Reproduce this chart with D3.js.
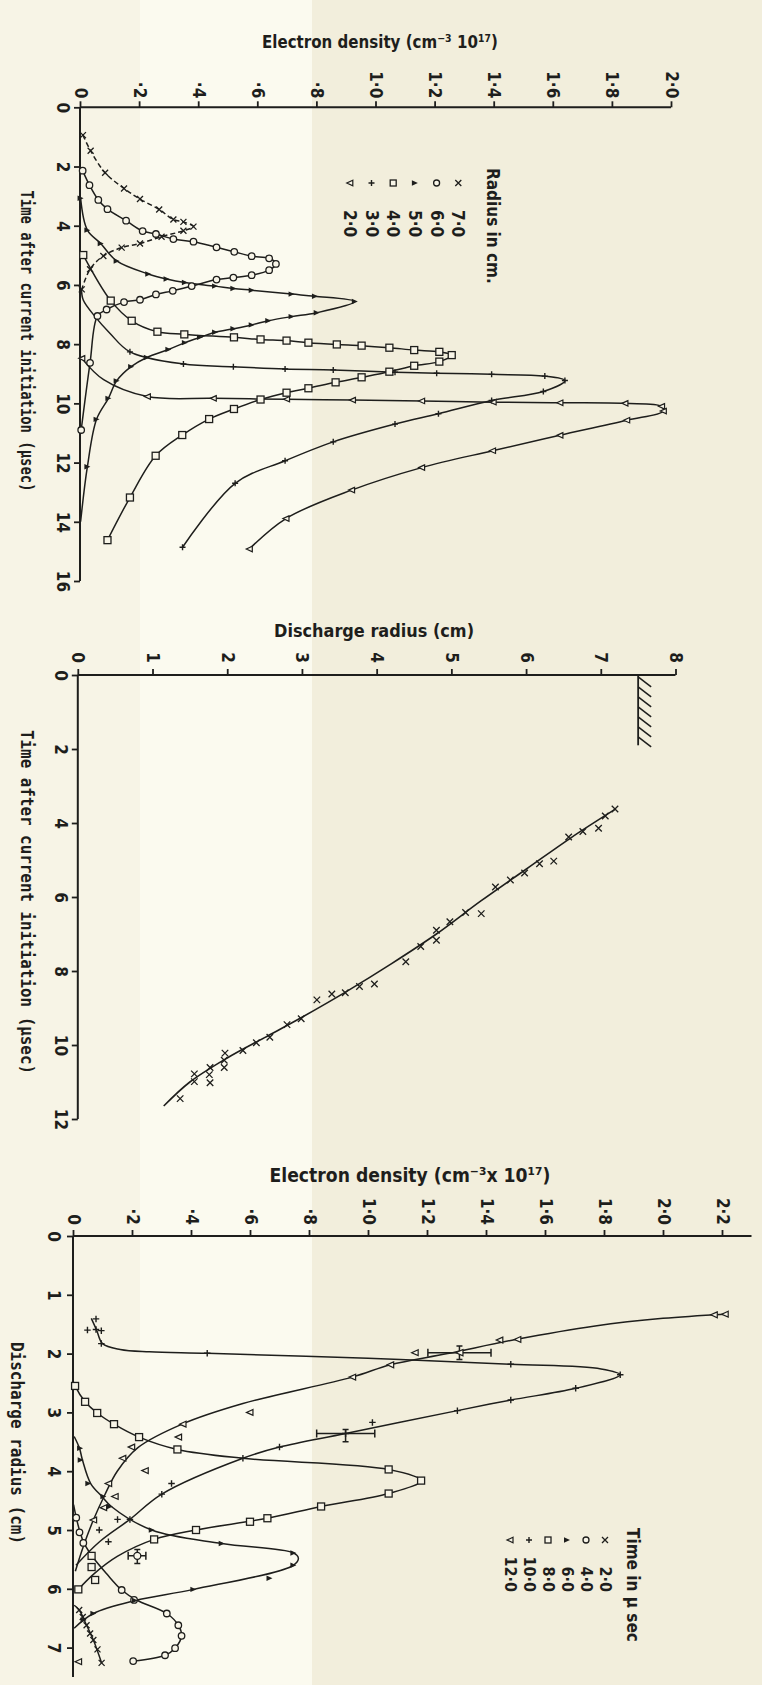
<!DOCTYPE html>
<html><head><meta charset="utf-8">
<script src="https://cdn.jsdelivr.net/npm/d3@7"></script>
<style>html,body{margin:0;padding:0;background:#f2eedc;}svg{display:block}</style>
</head><body><svg id="c" width="762" height="1685"></svg>
<script>
// ---------- Panel 1: electron density vs time, fixed radius  [time µs, density 1e17 cm^-3, (0 = no marker)]
const p1Radius7 = [[0.94,0.010],[1.47,0.036],[2.21,0.085],[2.74,0.149],[3.10,0.203],[3.45,0.268],[3.79,0.316],[3.87,0.350],[4.03,0.384],[4.17,0.350],[4.37,0.276],[4.60,0.203],[4.74,0.141],[5.02,0.079],[5.47,0.034],[6.15,0.006]];
const p1Radius6 = [[2.14,0.009],[2.63,0.032],[3.13,0.062],[3.44,0.093],[3.83,0.156],[4.18,0.212],[4.28,0.257],[4.45,0.316],[4.54,0.384],[4.73,0.462],[4.88,0.522],[5.03,0.581],[5.10,0.640],[5.29,0.663],[5.50,0.640],[5.67,0.581],[5.75,0.519],[5.82,0.462],[6.04,0.378],[6.20,0.314],[6.32,0.257],[6.50,0.203],[6.58,0.149],[6.83,0.090],[7.05,0.059],[8.63,0.034],[10.90,0.004]];
const p1Radius5 = [[3.07,0.002],[4.15,0.025],[4.60,0.070],[5.19,0.124],[5.63,0.231],[5.80,0.293],[5.92,0.355],[6.04,0.457],[6.12,0.519],[6.18,0.581],[6.31,0.716],[6.38,0.795],[6.56,0.930],[6.94,0.801],[7.07,0.716],[7.21,0.637],[7.35,0.581],[7.48,0.519],[7.60,0.457],[7.77,0.406],[7.95,0.355],[8.18,0.299],[8.45,0.226],[8.76,0.173],[9.24,0.124],[9.83,0.096],[10.54,0.056],[12.14,0.025],[14.00,0.002,0]];
const p1Radius4 = [[4.99,0.011],[6.53,0.104],[7.21,0.175],[7.58,0.262],[7.67,0.353],[7.77,0.521],[7.84,0.611],[7.88,0.699],[7.95,0.773],[8.01,0.869],[8.05,0.953],[8.12,1.047],[8.20,1.131],[8.26,1.216],[8.37,1.258],[8.59,1.216],[8.73,1.131],[8.93,1.047],[9.12,0.953],[9.29,0.865],[9.49,0.773],[9.64,0.699],[9.87,0.611],[10.19,0.521],[10.53,0.437],[11.07,0.346],[11.77,0.256],[13.18,0.169],[14.62,0.093]];
const p1Radius3 = [[6.15,0.005,0],[6.51,0.011,0],[7.07,0.051,0],[7.63,0.101,0],[8.26,0.169],[8.67,0.350],[8.76,0.519],[8.84,0.694],[8.87,0.857],[8.95,1.066],[8.98,1.207],[9.02,1.393],[9.08,1.573],[9.23,1.641],[9.60,1.568],[9.90,1.393],[10.35,1.213],[10.70,1.066],[11.30,0.857],[11.94,0.694],[12.70,0.525],[14.86,0.347]];
const p1Radius2 = [[8.48,0.006],[9.20,0.080,0],[9.77,0.228],[9.83,0.451],[9.86,0.699],[9.89,0.922],[9.92,1.156],[9.96,1.398],[9.98,1.624],[10.00,1.844],[10.10,1.968],[10.26,1.974],[10.57,1.850],[11.08,1.624],[11.60,1.396],[12.17,1.156],[12.93,0.919],[13.89,0.697],[14.92,0.573]];
const p1TimeTicks = [0,2,4,6,8,10,12,14,16];
const p1DensityTicks = [0,0.2,0.4,0.6,0.8,1.0,1.2,1.4,1.6,1.8,2.0];
const p1DensityLabels = ["0","·2","·4","·6","·8","1·0","1·2","1·4","1·6","1·8","2·0"];
const p1LegendLabels = ["7·0","6·0","5·0","4·0","3·0","2·0"];

// ---------- Panel 2: discharge radius vs time  [radius cm, time µs]
const p2Points = [[7.19,3.62],[7.06,3.81],[6.97,4.14],[6.76,4.23],[6.57,4.38],[6.37,5.03],[6.18,5.10],[5.98,5.35],[5.79,5.54],[5.59,5.73],[5.40,6.45],[5.19,6.42],[4.98,6.67],[4.80,6.90],[4.80,7.17],[4.59,7.34],[4.39,7.75],[3.97,8.35],[3.77,8.42],[3.58,8.59],[3.40,8.62],[3.20,8.78],[2.99,9.29],[2.80,9.45],[2.57,9.79],[2.39,9.94],[2.21,10.15],[1.97,10.22],[1.96,10.41],[1.96,10.61],[1.77,10.61],[1.76,10.80],[1.77,11.02],[1.56,10.78],[1.56,10.99],[1.37,11.45]];
const p2Fit = [[7.20,3.62],[6.60,4.40],[6.00,5.25],[5.40,6.10],[4.80,7.00],[4.20,7.80],[3.60,8.55],[3.00,9.25],[2.50,9.80],[2.00,10.35],[1.50,11.00],[1.15,11.65]];
const p2Wall = [7.5, 0, 1.9];          // wall radius, time from, time to
const p2RadiusTicks = [0,1,2,3,4,5,6,7,8];
const p2TimeTicks = [0,2,4,6,8,10,12];

// ---------- Panel 3: electron density vs radius, fixed time  [radius cm, density 1e17 cm^-3]
const p3Time2Pts = [[6.36,0.021],[6.48,0.033],[6.62,0.046],[6.76,0.058],[6.87,0.069],[7.03,0.083],[7.26,0.097]];
const p3Time2Curve = [[6.28,0.004],[6.36,0.021],[6.62,0.046],[6.87,0.069],[7.26,0.097]];
const p3Time4Pts = [[4.79,0.011],[5.04,0.022],[5.22,0.035],[6.02,0.165],[6.19,0.207],[6.42,0.318],[6.62,0.357],[6.80,0.368],[7.01,0.346],[7.13,0.312],[7.23,0.204]];
const p3Time4Curve = [[4.57,0.002],[4.79,0.011],[5.04,0.024],[5.22,0.037],[5.46,0.067],[5.75,0.115],[6.02,0.165],[6.19,0.215],[6.42,0.318],[6.62,0.357],[6.80,0.368],[7.01,0.346],[7.13,0.312],[7.23,0.204]];
const p3Time6Pts = [[3.61,0.024],[3.81,0.026],[4.21,0.052],[4.43,0.103],[4.60,0.125],[5.00,0.267],[5.23,0.504],[5.39,0.747],[5.60,0.747],[5.82,0.666],[6.01,0.408],[6.20,0.210],[6.42,0.069],[6.53,0.036]];
const p3Time6Curve = [[3.41,0.004],[3.61,0.022],[3.81,0.032],[4.21,0.060],[4.43,0.098],[4.60,0.130],[5.00,0.267],[5.23,0.504],[5.39,0.747],[5.48,0.764],[5.60,0.747],[6.01,0.408],[6.20,0.210],[6.42,0.069],[6.67,0.004]];
const p3Time8Pts = [[2.55,0.007],[2.82,0.041],[3.01,0.082],[3.20,0.139],[3.42,0.224],[3.63,0.354],[3.97,1.07],[4.16,1.18],[4.38,1.07],[4.60,0.841],[4.80,0.659],[4.86,0.600],[5.00,0.417],[5.16,0.275],[5.44,0.063],[5.63,0.063],[5.85,0.075],[6.01,0.018]];
const p3Time8Curve = [[2.48,0.002],[2.55,0.007],[2.82,0.041],[3.01,0.082],[3.20,0.139],[3.42,0.224],[3.63,0.354],[3.78,0.574],[3.97,1.07],[4.16,1.18],[4.38,1.07],[4.60,0.841],[4.80,0.659],[5.00,0.417],[5.16,0.275],[5.45,0.150],[5.75,0.070],[6.01,0.018]];
const p3Time10Pts = [[1.41,0.078],[1.60,0.049],[1.59,0.078],[1.61,0.096],[1.83,0.096],[1.995,0.455],[2.18,1.484],[2.36,1.855],[2.59,1.704],[2.79,1.484],[2.97,1.303],[3.17,1.015],[3.59,0.700],[3.78,0.576],[4.21,0.334],[4.39,0.301],[4.82,0.193],[4.82,0.151],[5.00,0.089],[5.20,0.120]];
const p3Time10Curve = [[1.40,0.062],[1.60,0.080],[1.83,0.100],[1.93,0.160],[1.97,0.259],[1.995,0.455],[2.08,1.000],[2.18,1.484],[2.26,1.790],[2.36,1.855],[2.59,1.704],[2.79,1.484],[2.97,1.303],[3.36,0.924],[3.59,0.700],[3.78,0.576],[4.39,0.301],[4.82,0.193],[5.20,0.090],[5.60,0.010]];
const p3Time12Pts = [[1.34,2.173],[1.33,2.21],[1.76,1.507],[1.77,1.446],[1.985,1.159],[2.19,1.076],[2.40,0.947],[3.00,0.599],[3.20,0.372],[3.42,0.357],[3.59,0.198],[3.78,0.168],[3.99,0.244],[4.21,0.120],[4.43,0.142],[4.62,0.103],[4.83,0.069],[7.24,0.018]];
const p3Time12Curve = [[1.33,2.21],[1.40,2.00],[1.53,1.77],[1.76,1.50],[2.00,1.27],[2.19,1.076],[2.40,0.947],[2.85,0.576],[3.20,0.370],[3.60,0.220],[4.00,0.150],[4.40,0.108],[4.83,0.069],[5.28,0.035],[5.70,0.008]];
// error bars: [radius, density, density low, density high, radius low, radius high]
const p3ErrorBars = [[1.985,1.31,1.203,1.417,1.87,2.10],[3.36,0.924,0.826,1.023,3.29,3.50],[5.44,0.218,0.187,0.247,5.33,5.57]];
const p3ErrorSymbols = ["triL","plus","o"];
const p3RadiusTicks = [0,1,2,3,4,5,6,7];
const p3DensityTicks = [0,0.2,0.4,0.6,0.8,1.0,1.2,1.4,1.6,1.8,2.0,2.2];
const p3DensityLabels = ["0","·2","·4","·6","·8","1·0","1·2","1·4","1·6","1·8","2·0","2·2"];
const p3LegendLabels = ["2·0","4·0","6·0","8·0","10·0","12·0"];

// ---------- drawing
const ink = "#1e1e1c", paper = "#f8f5e8";
const BOLD = "'DejaVu Sans Condensed','Liberation Sans Narrow','DejaVu Sans',sans-serif";
const MONO = "'DejaVu Sans Mono','Liberation Mono',monospace";
const svg = d3.select("#c");
svg.append("rect").attr("width",762).attr("height",1685).attr("fill","#f2eedc");
svg.append("rect").attr("x",0).attr("width",140).attr("height",1685).attr("fill","#f7f4e6");
svg.append("rect").attr("x",140).attr("width",172).attr("height",1685).attr("fill","#fbfaef");

function marker(g, type, x, y, s) {
  const h = s / 2;
  if (type === "x") g.append("path").attr("d",`M${x-h},${y-h}L${x+h},${y+h}M${x-h},${y+h}L${x+h},${y-h}`).attr("stroke",ink).attr("stroke-width",1.3).attr("fill","none");
  else if (type === "plus") g.append("path").attr("d",`M${x-h},${y}L${x+h},${y}M${x},${y-h}L${x},${y+h}`).attr("stroke",ink).attr("stroke-width",1.4).attr("fill","none");
  else if (type === "o") g.append("circle").attr("cx",x).attr("cy",y).attr("r",h).attr("fill",paper).attr("stroke",ink).attr("stroke-width",1.3);
  else if (type === "sq") g.append("rect").attr("x",x-h).attr("y",y-h).attr("width",s).attr("height",s).attr("fill",paper).attr("stroke",ink).attr("stroke-width",1.3);
  else if (type === "triR") g.append("path").attr("d",`M${x-h},${y-h*0.9}L${x+h},${y}L${x-h},${y+h*0.9}Z`).attr("fill",ink);
  else if (type === "triL") g.append("path").attr("d",`M${x+h},${y-h*0.9}L${x-h},${y}L${x+h},${y+h*0.9}Z`).attr("fill",paper).attr("stroke",ink).attr("stroke-width",1.2);
}

function rotText(g, x, y, str, size, anchor, family, weight) {
  return g.append("text").attr("transform",`translate(${x},${y}) rotate(90)`)
    .attr("text-anchor",anchor).attr("dominant-baseline","central")
    .attr("font-family",family||BOLD).attr("font-weight",weight||"bold").attr("font-size",size).attr("fill",ink).text(str);
}

function topAxis(g, scale, y, ticks, labels, xEnd, gap) {
  const a = g.append("g").attr("transform",`translate(0,${y})`)
    .call(d3.axisTop(scale).tickValues(ticks).tickFormat((d,i)=>labels[i]).tickSize(6).tickSizeOuter(0));
  a.attr("font-size",null).attr("font-family",null);
  a.select(".domain").remove();
  a.selectAll(".tick line").attr("stroke",ink).attr("stroke-width",1.8);
  a.selectAll(".tick text").attr("x",0).attr("y",0).attr("dy",null)
    .attr("transform",`translate(0,${-gap}) rotate(90)`).attr("text-anchor","end").attr("dominant-baseline","central")
    .attr("font-family",BOLD).attr("font-weight","bold").attr("font-size",17).attr("fill",ink);
  g.append("line").attr("x1",scale(0)).attr("x2",xEnd).attr("y1",y).attr("y2",y).attr("stroke",ink).attr("stroke-width",2);
}
function leftAxis(g, scale, x, ticks, labels, yEnd, off) {
  const a = g.append("g").attr("transform",`translate(${x},0)`)
    .call(d3.axisLeft(scale).tickValues(ticks).tickFormat((d,i)=>labels[i]).tickSize(6).tickSizeOuter(0));
  a.attr("font-size",null).attr("font-family",null);
  a.select(".domain").remove();
  a.selectAll(".tick line").attr("stroke",ink).attr("stroke-width",1.8);
  a.selectAll(".tick text").attr("x",0).attr("y",0).attr("dy",null)
    .attr("transform",`translate(${-off},0) rotate(90)`).attr("text-anchor","middle").attr("dominant-baseline","central")
    .attr("font-family",BOLD).attr("font-weight","bold").attr("font-size",17).attr("fill",ink);
  g.append("line").attr("x1",x).attr("x2",x).attr("y1",scale(0)).attr("y2",yEnd).attr("stroke",ink).attr("stroke-width",2);
}
function title(g, x, y, size, len, str) {
  return g.append("text").attr("x",x).attr("y",y).attr("text-anchor","middle").attr("dominant-baseline","central")
    .attr("font-family",BOLD).attr("font-weight","bold").attr("font-size",size).attr("fill",ink)
    .attr("textLength",len).attr("lengthAdjust","spacingAndGlyphs").text(str);
}

// ===== Panel 1
{
  const g = svg.append("g");
  const x = d3.scaleLinear().domain([0,2]).range([80,671]);
  const y = d3.scaleLinear().domain([0,16]).range([107.3,581]);
  topAxis(g, x, y(0), p1DensityTicks, p1DensityLabels, x(2), 9);
  leftAxis(g, y, x(0), p1TimeTicks, p1TimeTicks.map(String), y(16), 17);
  title(g, 380, 41, 18, 236, "Electron density (cm⁻³ 10¹⁷)");
  rotText(g, 27, 341, "Time after current initiation (µsec)", 17, "middle", MONO, "bold").attr("textLength",301).attr("lengthAdjust","spacingAndGlyphs");
  const series = [
    {data:p1Radius7, sym:"x", size:6, dash:"5,3"},
    {data:p1Radius6, sym:"o", size:6.5},
    {data:p1Radius5, sym:"triR", size:6},
    {data:p1Radius4, sym:"sq", size:7},
    {data:p1Radius3, sym:"plus", size:6},
    {data:p1Radius2, sym:"triL", size:6}
  ];
  const line = d3.line().x(p=>x(p[1])).y(p=>y(p[0])).curve(d3.curveCatmullRom.alpha(0.5));
  series.forEach(s => {
    g.append("path").attr("d",line(s.data)).attr("fill","none").attr("stroke",ink).attr("stroke-width",1.5)
      .attr("stroke-dasharray",s.dash||null);
  });
  series.forEach(s => s.data.forEach(p => { if (p[2] !== 0) marker(g, s.sym, x(p[1]), y(p[0]), s.size); }));
  // legend
  rotText(g, 493, 168, "Radius in cm.", 17, "start");
  series.forEach((s,i) => {
    const lx = 458.3 - i*21.7;
    marker(g, s.sym, lx, 183, 6);
    rotText(g, lx, 210, p1LegendLabels[i], 17, "start");
  });
}

// ===== Panel 2
{
  const g = svg.append("g");
  const x = d3.scaleLinear().domain([0,8]).range([77.8,675.5]);
  const y = d3.scaleLinear().domain([0,12]).range([675,1119]);
  topAxis(g, x, y(0), p2RadiusTicks, p2RadiusTicks.map(String), x(8), 12);
  leftAxis(g, y, x(0), p2TimeTicks, p2TimeTicks.map(String), y(12), 17);
  title(g, 374, 630, 18, 200, "Discharge radius (cm)");
  rotText(g, 27, 902, "Time after current initiation (µsec)", 17, "middle", MONO, "bold").attr("textLength",344).attr("lengthAdjust","spacingAndGlyphs");
  // wall
  const wx = x(p2Wall[0]);
  g.append("line").attr("x1",wx).attr("x2",wx).attr("y1",y(p2Wall[1])).attr("y2",y(p2Wall[2])).attr("stroke",ink).attr("stroke-width",1.8);
  d3.range(p2Wall[1]+0.05, p2Wall[2], 0.27).forEach(t => {
    g.append("line").attr("x1",wx).attr("y1",y(t)).attr("x2",wx+13).attr("y2",y(t)+10).attr("stroke",ink).attr("stroke-width",1.5);
  });
  const line = d3.line().x(p=>x(p[0])).y(p=>y(p[1])).curve(d3.curveCatmullRom.alpha(0.5));
  g.append("path").attr("d",line(p2Fit)).attr("fill","none").attr("stroke",ink).attr("stroke-width",1.6);
  p2Points.forEach(p => marker(g, "x", x(p[0]), y(p[1]), 6.5));
}

// ===== Panel 3
{
  const g = svg.append("g");
  const x = d3.scaleLinear().domain([0,2.2]).range([73,722]);
  const y = d3.scaleLinear().domain([0,7]).range([1236,1647.6]);
  topAxis(g, x, y(0), p3DensityTicks, p3DensityLabels, x(2.3), 11);
  leftAxis(g, y, x(0), p3RadiusTicks, p3RadiusTicks.map(String), y(7.5), 19.5);
  title(g, 410, 1175, 20, 281, "Electron density (cm⁻³x 10¹⁷)");
  rotText(g, 17, 1443, "Discharge radius (cm)", 17, "middle", MONO, "bold").attr("textLength",202).attr("lengthAdjust","spacingAndGlyphs");
  const series = [
    {pts:p3Time2Pts, curve:p3Time2Curve, sym:"x", size:6},
    {pts:p3Time4Pts, curve:p3Time4Curve, sym:"o", size:6.5},
    {pts:p3Time6Pts, curve:p3Time6Curve, sym:"triR", size:6},
    {pts:p3Time8Pts, curve:p3Time8Curve, sym:"sq", size:7},
    {pts:p3Time10Pts, curve:p3Time10Curve, sym:"plus", size:6.5},
    {pts:p3Time12Pts, curve:p3Time12Curve, sym:"triL", size:6.5}
  ];
  const line = d3.line().x(p=>x(p[1])).y(p=>y(p[0])).curve(d3.curveCatmullRom.alpha(0.5));
  series.forEach(s => g.append("path").attr("d",line(s.curve)).attr("fill","none").attr("stroke",ink).attr("stroke-width",1.5));
  // error bars
  p3ErrorBars.forEach((e,i) => {
    const cx = x(e[1]), cy = y(e[0]);
    const xa = x(e[2]), xb = x(e[3]), ya = y(e[4]), yb = y(e[5]);
    g.append("path").attr("d",`M${xa},${cy}L${xb},${cy}M${xa},${cy-4}L${xa},${cy+4}M${xb},${cy-4}L${xb},${cy+4}M${cx},${ya}L${cx},${yb}M${cx-3},${ya}L${cx+3},${ya}M${cx-3},${yb}L${cx+3},${yb}`)
      .attr("stroke",ink).attr("stroke-width",1.5).attr("fill","none");
    marker(g, p3ErrorSymbols[i], cx, cy, 7);
  });
  series.forEach(s => s.pts.forEach(p => marker(g, s.sym, x(p[1]), y(p[0]), s.size)));
  // legend
  rotText(g, 633, 1528, "Time in µ sec", 17, "start");
  series.forEach((s,i) => {
    const lx = 605 - i*19;
    marker(g, s.sym, lx, 1540, 6);
    rotText(g, lx, 1592, p3LegendLabels[i], 16, "end");
  });
}
</script></body></html>
